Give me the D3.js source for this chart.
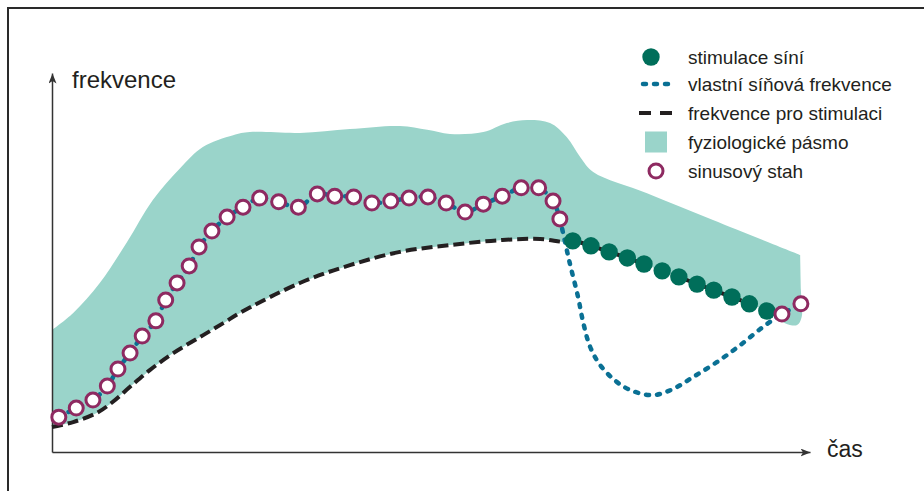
<!DOCTYPE html>
<html>
<head>
<meta charset="utf-8">
<script src="https://cdn.jsdelivr.net/npm/d3@7"></script>
<style>
  body { margin: 0; background: #fff; }
  text { font-family: "Liberation Sans", Arial, sans-serif; fill: #231f20; }
</style>
</head>
<body>
<div id="chart"></div>
<script>
// sinus beats (time, rate) - open circles
var sinusT = [0.9, 3.2, 5.4, 7.3, 8.7, 10.3, 11.9, 13.7, 15.0, 16.5, 18.1, 19.4, 21.1, 23.1, 25.2, 27.4,
              29.9, 32.5, 35.0, 37.3, 39.8, 42.2, 44.7, 47.1, 49.6, 52.0, 54.5, 56.9, 59.4, 61.9, 64.2, 66.1, 67.0];
var sinusF = [9.2, 11.6, 13.7, 17.4, 21.9, 26.1, 30.6, 34.6, 40.1, 44.6, 49.1, 54.1, 58.3, 62.0, 64.6, 67.0,
              66.0, 64.6, 68.1, 67.5, 67.3, 65.7, 66.2, 67.0, 67.3, 65.7, 63.3, 65.4, 67.5, 69.7, 69.7, 66.2, 61.5];
var sinusEndT = [96.3, 98.8];
var sinusEndF = [36.4, 39.1];

// atrial pacing - filled dots
var stimT = [68.7, 71.1, 73.5, 75.9, 78.1, 80.5, 82.7, 85.1, 87.3, 89.7, 92.0, 94.3];
var stimF = [55.7, 54.4, 52.8, 51.2, 49.6, 47.8, 46.2, 44.3, 42.7, 40.9, 39.1, 37.2];

// own atrial rate after the sinus stops (dotted)
var ownT = [67.4, 68.3, 69.4, 70.1, 71.0, 72.3, 74.5, 76.6, 79.3, 81.9, 84.6, 87.7, 90.8, 93.8];
var ownF = [58.0, 49.9, 40.9, 34.0, 27.7, 23.0, 18.5, 16.1, 15.0, 16.6, 19.8, 23.7, 28.2, 33.0];

// pacing rate (dashed), continues through the pacing dots
var paceT = [0, 2.8, 5.9, 8.0, 10.3, 12.9, 16.0, 19.5, 22.6, 24.8, 32.7, 39.3, 45.9, 52.5, 59.1, 64.4, 67.7];
var paceF = [6.6, 7.9, 10.3, 13.2, 17.2, 21.6, 26.1, 30.3, 34.0, 36.7, 44.6, 49.3, 52.8, 54.6, 55.9, 56.2, 55.4];

// upper edge of the physiological band
var bandTopT = [0, 2.8, 6.3, 9.9, 13.3, 16.9, 19.9, 23.9, 26.1, 32.7, 39.3, 45.9, 49.5, 52.5, 56.9, 60.0,
                62.7, 65.7, 67.9, 69.7, 71.4, 78.5, 87.2, 98.7];
var bandTopF = [32.2, 36.7, 44.6, 55.4, 66.5, 74.9, 80.5, 83.6, 84.4, 84.2, 85.2, 86.0, 85.0, 83.9, 84.4, 86.8,
                87.6, 86.8, 83.1, 77.8, 73.9, 68.3, 61.2, 52.0];
// right edge of the band, going down
var bandRightT = [98.7, 98.8, 98.9, 98.3, 96.7];
var bandRightF = [52.0, 42.7, 35.6, 33.5, 34.0];

var legendLabels = ["stimulace síní", "vlastní síňová frekvence", "frekvence pro stimulaci",
                    "fyziologické pásmo", "sinusový stah"];

var W = 924, H = 491;
var cTeal = "#9ad4ca", cGreen = "#006e5a", cBlue = "#0a7094", cPurple = "#8e2a61", cInk = "#231f20";

var svg = d3.select("#chart").append("svg")
    .attr("width", W)
    .attr("height", H);

function pts(ts, fs) { return ts.map(function(t, i) { return [t, fs[i]]; }); }

var x = d3.scaleLinear().domain([0, 100]).range([52, 810]);
var y = d3.scaleLinear().domain([0, 100]).range([452, 73]);

// frame
svg.append("rect")
    .attr("x", 8).attr("y", 8)
    .attr("width", W + 20).attr("height", H + 20)
    .attr("fill", "none")
    .attr("stroke", "#2a2a2a")
    .attr("stroke-width", 2);

// arrow heads
var defs = svg.append("defs");
defs.append("marker")
    .attr("id", "arrow")
    .attr("viewBox", "0 0 10 8")
    .attr("refX", 10).attr("refY", 4)
    .attr("markerWidth", 10).attr("markerHeight", 8)
    .attr("markerUnits", "userSpaceOnUse")
    .attr("orient", "auto")
  .append("path")
    .attr("d", "M0,0L10,4L0,8L2.5,4Z")
    .attr("fill", "#333");

var line = d3.line()
    .x(function(d) { return x(d[0]); })
    .y(function(d) { return y(d[1]); })
    .curve(d3.curveCatmullRom.alpha(0.5));

var pacePts = pts(paceT, paceF).concat(pts(stimT, stimF));

// band: smooth top edge, then right edge + lower edge (pacing line reversed)
var lowerPts = pts(bandRightT, bandRightF).concat(pacePts.slice().reverse());
svg.append("path")
    .attr("d", line(pts(bandTopT, bandTopF)) + line(lowerPts).replace(/^M/, "L") + "Z")
    .attr("fill", cTeal);

// axes (no ticks)
svg.append("g")
    .attr("transform", "translate(0," + y(0) + ")")
    .call(d3.axisBottom(x).tickValues([]).tickSizeOuter(0))
    .select(".domain")
      .attr("stroke", "#333").attr("stroke-width", 1.5)
      .attr("marker-end", "url(#arrow)");
svg.append("g")
    .attr("transform", "translate(" + x(0) + ",0)")
    .call(d3.axisLeft(y).tickValues([]).tickSizeOuter(0))
    .select(".domain")
      .attr("stroke", "#333").attr("stroke-width", 1.5)
      .attr("marker-end", "url(#arrow)");

svg.append("text").attr("x", 72).attr("y", 88).style("font-size", "24px").text("frekvence");
svg.append("text").attr("x", 827).attr("y", 457).style("font-size", "23px").text("čas");

// pacing rate (dashed)
svg.append("path")
    .attr("d", line(pacePts))
    .attr("fill", "none")
    .attr("stroke", cInk)
    .attr("stroke-width", 4)
    .attr("stroke-dasharray", "11 5");

// own atrial rate (dotted)
var ownPts = pts(sinusT, sinusF).concat(pts(ownT, ownF)).concat(pts(sinusEndT, sinusEndF));
svg.append("path")
    .attr("d", line(ownPts))
    .attr("fill", "none")
    .attr("stroke", cBlue)
    .attr("stroke-width", 4.5)
    .attr("stroke-linecap", "round")
    .attr("stroke-dasharray", "3 8");

// pacing dots
svg.selectAll(".stim")
    .data(pts(stimT, stimF))
  .enter().append("circle")
    .attr("class", "stim")
    .attr("cx", function(d) { return x(d[0]); })
    .attr("cy", function(d) { return y(d[1]); })
    .attr("r", 8.7)
    .attr("fill", cGreen);

// sinus beats
svg.selectAll(".sinus")
    .data(pts(sinusT, sinusF).concat(pts(sinusEndT, sinusEndF)))
  .enter().append("circle")
    .attr("class", "sinus")
    .attr("cx", function(d) { return x(d[0]); })
    .attr("cy", function(d) { return y(d[1]); })
    .attr("r", 7)
    .attr("fill", "#fff")
    .attr("stroke", cPurple)
    .attr("stroke-width", 3);

// legend
var legend = svg.append("g");
var rowY = [57, 84, 113, 142, 171];
legend.selectAll("text")
    .data(legendLabels)
  .enter().append("text")
    .attr("x", 688)
    .attr("y", function(d, i) { return rowY[i] + 6.5; })
    .style("font-size", "19px")
    .text(function(d) { return d; });

legend.append("circle").attr("cx", 651).attr("cy", rowY[0]).attr("r", 8.7).attr("fill", cGreen);
legend.append("line")
    .attr("x1", 643).attr("x2", 668).attr("y1", rowY[1]).attr("y2", rowY[1])
    .attr("stroke", cBlue).attr("stroke-width", 4.5)
    .attr("stroke-linecap", "round").attr("stroke-dasharray", "3 8");
legend.append("line")
    .attr("x1", 639).attr("x2", 672).attr("y1", rowY[2]).attr("y2", rowY[2])
    .attr("stroke", cInk).attr("stroke-width", 4)
    .attr("stroke-dasharray", "12 9");
legend.append("rect")
    .attr("x", 645).attr("y", rowY[3] - 10.5).attr("width", 22).attr("height", 21)
    .attr("fill", cTeal);
legend.append("circle")
    .attr("cx", 656).attr("cy", rowY[4]).attr("r", 7)
    .attr("fill", "#fff").attr("stroke", cPurple).attr("stroke-width", 3);
</script>
</body>
</html>
